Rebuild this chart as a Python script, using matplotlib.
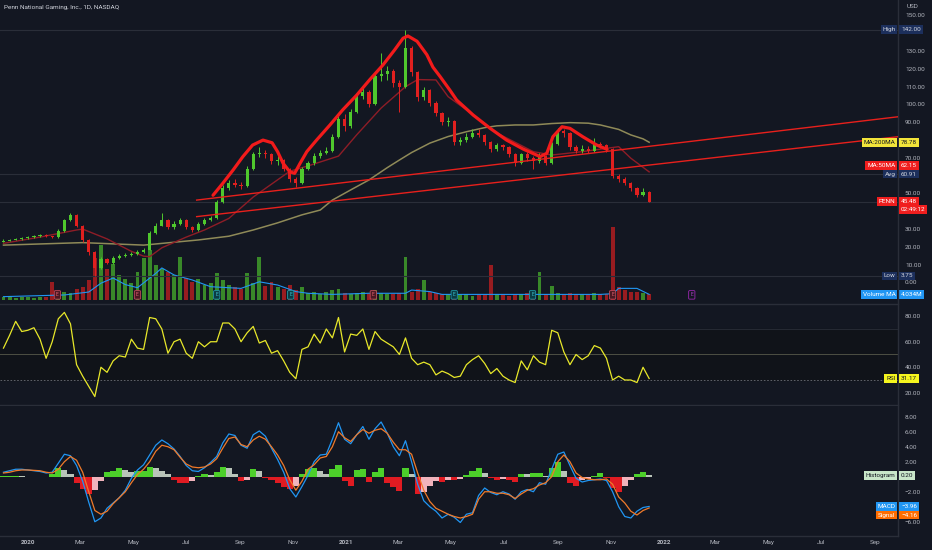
import matplotlib
matplotlib.use("Agg")
import matplotlib.pyplot as plt
import matplotlib.dates as mdates
import numpy as np
import pandas as pd

plt.rcParams["font.family"] = ["Roboto", "DejaVu Sans"]

# weekly bars, first bar in the week of 2019-12-04
bar_start = "2019-12-04"
first_open = 23.0
closes = [
    23.5, 24, 24.5, 25, 25.5, 26, 26.5, 26, 25.5, 29,
    35, 38, 32, 24, 17, 8, 13, 11, 14, 15,
    15.5, 16, 17, 18.5, 28, 32, 35, 31, 33, 35,
    31, 29.5, 33, 35, 36, 45, 53, 56, 55, 54,
    64, 72, 73, 72, 68, 69, 64, 58, 56, 64,
    67, 71, 73, 74, 82, 92, 88, 96, 105, 107,
    100, 116, 117, 119, 112, 110, 132, 118, 104, 108,
    101, 95, 90, 91, 79, 80, 82, 84, 83, 79,
    75, 77, 76, 72, 67, 72, 70, 68, 71, 67,
    78, 85, 84, 76, 74, 75, 74, 78, 77, 75,
    60, 58, 56, 53, 49, 51, 45.48,
]
highs = [
    24.2, 24.6, 25.0, 25.6, 26.3, 26.8, 27.2, 27.0, 26.4, 29.8,
    35.8, 39.3, 38.4, 32.5, 24.6, 17.5, 14.5, 13.8, 14.8, 16.2,
    16.4, 17.0, 18.0, 19.6, 29.0, 33.5, 39.0, 35.5, 34.5, 36.2,
    35.4, 31.8, 33.8, 36.0, 37.5, 46.5, 54.5, 57.5, 58.0, 56.5,
    65.5, 73.5, 76.0, 74.5, 73.0, 71.0, 69.5, 64.5, 59.0, 65.0,
    68.5, 72.5, 74.5, 76.0, 83.5, 93.5, 94.5, 97.5, 106.5, 109.5,
    108.0, 117.5, 129.0, 121.5, 120.0, 114.0, 142.0, 133.0, 119.0, 110.0,
    108.5, 102.0, 96.0, 93.0, 91.5, 82.0, 84.0, 86.0, 86.0, 83.5,
    79.5, 78.5, 78.0, 76.5, 72.5, 73.0, 73.5, 71.0, 72.5, 71.5,
    79.0, 87.0, 86.5, 84.5, 77.0, 77.0, 76.5, 81.0, 79.0, 78.0,
    75.5, 61.0, 59.0, 56.5, 53.5, 53.0, 51.5,
]
lows = [
    22.6, 23.2, 23.6, 24.1, 24.6, 25.2, 25.6, 25.3, 24.8, 25.2,
    28.6, 34.6, 31.2, 22.8, 15.2, 3.75, 7.5, 10.2, 10.6, 13.4,
    14.2, 15.0, 15.6, 16.5, 18.0, 27.0, 31.5, 30.0, 30.2, 32.4,
    30.2, 28.4, 29.0, 32.5, 34.6, 35.5, 44.5, 52.0, 53.5, 52.5,
    53.5, 63.0, 70.5, 70.0, 66.5, 66.0, 62.5, 56.5, 53.5, 55.5,
    63.0, 66.0, 70.0, 72.0, 73.5, 81.0, 85.0, 87.0, 95.0, 103.0,
    98.5, 99.5, 113.0, 114.0, 110.0, 96.0, 109.0, 116.0, 102.0, 102.5,
    99.0, 93.5, 88.5, 88.0, 77.0, 77.5, 79.0, 81.0, 81.5, 77.5,
    73.5, 74.0, 74.5, 70.5, 65.5, 66.5, 68.5, 64.0, 67.0, 66.0,
    66.5, 77.0, 82.0, 74.5, 72.5, 73.0, 72.5, 73.5, 75.5, 73.5,
    58.5, 56.5, 54.5, 51.5, 48.0, 48.5, 45.0,
]
volumes = [  # millions
    2, 2, 1.5, 2, 2, 1.5, 2, 2.5, 13, 5,
    6, 5, 8, 9, 14, 30, 39, 22, 26, 18,
    15, 12, 20, 30, 36, 25, 22, 20, 18, 31,
    16, 13, 15, 11, 12, 19, 14, 11, 9, 8,
    19, 12, 31, 10, 13, 9, 8, 11, 7, 9,
    5, 6, 4, 6, 7, 8, 5, 4, 5, 6,
    4, 7, 5, 4, 4, 5, 31, 6, 8, 14,
    6, 5, 4, 4, 5, 4, 4, 3, 4, 4,
    25, 4, 4, 3, 4, 4, 5, 5, 20, 4,
    10, 5, 4, 5, 4, 4, 4, 5, 4, 4,
    52, 9, 7, 6, 6, 5, 4,
]
rsi = [
    55, 65, 76, 68, 69, 71, 62, 47, 60, 78,
    83, 74, 42, 33, 25, 17, 40, 36, 45, 49,
    48, 62, 55, 54, 79, 78, 70, 51, 60, 62,
    51, 47, 60, 56, 60, 60, 74.7, 74.7, 70, 60,
    67, 72, 59, 61, 51, 53, 45, 36, 31, 54,
    56, 66, 59, 70, 63, 79, 52, 66, 65, 70,
    54, 68, 62, 59, 56, 50, 63, 47, 42, 44,
    42, 34, 37, 35, 32, 33, 42, 46, 49, 43,
    35, 39, 33, 30, 28, 45, 38, 49, 44, 42,
    69, 67, 52, 42, 50, 46, 49, 57, 55, 47,
    30, 33, 30, 30, 28, 40, 31.17,
]
macd = [
    0.6, 0.8, 1.0, 1.0, 0.9, 0.8, 0.7, 0.5, 0.6, 1.8,
    3.0, 2.8, 1.5, -0.6, -3.4, -6.0, -5.5, -4.2, -3.5, -2.8,
    -1.8, -0.2, 0.9, 1.6, 2.9, 4.2, 4.9, 4.4, 3.7, 2.7,
    1.5, 0.8, 0.7, 1.2, 1.9, 2.7, 4.5, 5.7, 5.5, 4.2,
    3.8, 5.6, 6.1, 5.4, 3.8, 2.3, 0.6, -1.6, -2.7, -1.3,
    0.2, 2.0, 2.9, 3.0, 5.0, 7.2, 5.0, 4.4, 5.6, 6.7,
    5.0, 6.4, 7.3, 5.8, 4.0, 2.8, 4.8, 2.0, -1.0, -3.2,
    -4.0, -4.6, -5.5, -5.0, -5.4, -6.1, -5.0, -4.8, -2.5, -1.5,
    -2.1, -2.4, -2.0, -2.3, -3.0, -2.0, -1.7, -2.0, -0.8, -1.0,
    1.0, 3.0, 3.3, 1.5, -0.2, -0.7, -0.5, -0.4, -0.3, -0.5,
    -2.0, -4.0, -5.3, -5.5, -4.6, -4.1, -3.96,
]
signal = [
    0.5, 0.6, 0.8, 0.9, 0.9, 0.85, 0.8, 0.6, 0.5, 1.0,
    2.0, 2.7, 2.2, 0.6, -2.0, -4.5, -5.0, -4.6, -3.6, -2.8,
    -2.0, -0.8, 0.3, 1.0, 2.0, 3.4, 4.2, 4.0, 3.6, 2.6,
    1.7, 1.3, 1.2, 1.3, 1.7, 2.4, 3.8, 5.1, 5.3, 4.3,
    4.0, 4.9, 5.4, 5.0, 4.0, 2.9, 1.5, -0.4, -1.8, -0.6,
    1.0, 1.6, 2.5, 2.7, 4.0, 6.0, 5.2, 4.7, 5.6, 6.3,
    5.8, 6.2, 6.4, 5.8, 4.6, 3.6, 3.6, 3.0, 0.5, -1.8,
    -3.3, -4.2, -4.6, -5.0, -5.3, -5.5, -5.3, -5.0, -3.0, -2.0,
    -2.0, -2.2, -2.2, -2.4, -2.9, -2.3, -1.8, -1.6, -1.1, -0.8,
    0.0, 2.0, 2.9, 2.0, 0.5, -0.1, -0.3, -0.4, -0.4, -0.3,
    -1.0, -2.7, -3.5, -4.6, -5.1, -4.5, -4.16,
]
hist = [
    0.05, 0.1, 0.1, 0.05, -0.05, -0.05, -0.1, -0.1, 0.4, 1.2,
    0.9, 0.3, -0.8, -1.6, -2.3, -1.8, -0.6, 0.6, 0.8, 1.2,
    0.9, 0.6, 0.7, 0.8, 1.3, 1.2, 0.7, 0.3, -0.5, -0.8,
    -0.8, -0.6, 0.1, 0.3, 0.2, 0.6, 1.3, 1.1, 0.3, -0.6,
    -0.4, 1.0, 0.8, -0.2, -0.5, -0.9, -1.4, -1.6, -1.2, 0.4,
    1.0, 1.2, 0.8, 0.4, 1.0, 1.5, -0.6, -1.2, 0.9, 1.0,
    -0.7, 0.6, 1.2, -0.8, -1.4, -1.9, 1.2, 0.4, -2.3, -2.1,
    -1.2, -0.6, -0.7, -0.4, -0.5, -0.3, 0.2, 0.8, 1.2, 0.5,
    -0.2, -0.4, -0.3, -0.5, -0.7, 0.4, 0.3, 0.5, 0.5, 0.1,
    1.2, 2.0, 0.8, -0.8, -1.3, -0.5, -0.3, 0.1, 0.5, -0.2,
    -1.5, -2.0, -1.2, -0.5, 0.3, 0.6, 0.2,
]

# moving averages, sampled at bar numbers
ma200_weeks = [0, 13, 23, 32, 37, 41, 45, 49, 52, 54, 57, 60, 63, 65, 67,
               70, 73, 76, 79, 81, 84, 87, 90, 93, 96, 98, 101, 103, 105, 106]
ma200_vals = [21, 22.4, 21, 23.9, 26, 29.5, 33.5, 38, 40.7, 46.3, 52, 57.6, 64.5, 68.8, 73,
              78.3, 82, 84.7, 87, 88, 88.5, 88.5, 89.3, 89.8, 89.5, 88.5, 86, 82.9, 80.7, 78.78]
ma50_weeks = [0, 6, 12, 13, 17, 21, 23, 24, 26, 30, 33, 37, 41, 47, 50, 55, 58,
              62, 66, 68, 71, 73, 76, 81, 87, 90, 95, 101, 103, 106]
ma50_vals = [22, 25.5, 29.5, 30, 24.5, 17.5, 14.8, 14.5, 19.5, 25.5, 29.5, 36, 48, 62.5, 65.5, 71, 83,
             98, 110, 114, 113.8, 104.4, 97, 84, 73.5, 71.6, 73.5, 76.3, 69.8, 62.15]
vma_weeks = [0, 10, 14, 16, 18, 20, 22, 25, 26, 28, 31, 34, 39, 42, 45, 48, 50,
             54, 60, 66, 67, 70, 72, 80, 90, 98, 100, 101, 104, 106]
vma_vals = [2.4, 3.6, 5.7, 12, 15.7, 11, 8.8, 19, 22.9, 17.9, 14.3, 9.5, 8.3, 13, 10.7, 6, 4.8,
            4, 4.8, 4.8, 7.1, 6, 4, 4, 4, 4, 4.5, 8.3, 8.3, 4.034]

# hand drawn pattern curve (bar number, price)
curve_weeks = [34.4, 36.0, 37.7, 39.3, 40.9, 42.6, 44.1, 45.0, 45.9, 47.0, 47.8, 48.7, 49.8,
               51.4, 53.6, 55.7, 58.0, 60.1, 62.3, 64.2, 65.6, 66.4, 67.9, 69.5, 70.5,
               71.7, 73.3, 74.4, 77.1, 79.9, 82.6, 85.3, 88.1, 89.2, 90.2, 91.7, 93.0,
               95.1, 97.4, 99.1]
curve_prices = [49, 55.7, 63.2, 70.7, 77.2, 80, 78.5, 73.5, 67, 62.2, 61.3, 67, 73.5,
                80, 88.5, 97, 105.3, 113.8, 122.2, 130.6, 137.2, 138.5, 135.5, 128, 121,
                115.6, 108, 102.5, 94.1, 86.6, 80, 75, 70.7, 72.6, 81.9, 87.5, 86.6,
                81.9, 77.2, 74.8]

trend_dates = ["2020-07-13", "2022-09-27"]
trend_upper = [46.3, 93.1]
trend_lower = [37.0, 81.9]

earnings_dates = ["2020-02-04", "2020-05-06", "2020-08-05", "2020-10-29", "2021-02-01",
                  "2021-05-05", "2021-08-03", "2021-11-03", "2022-02-02"]
earnings_kind = ["miss", "miss", "beat", "beat", "miss", "beat", "beat", "miss", "next"]

month_ticks = pd.date_range("2020-01-01", "2022-09-01", freq="2MS")

BG = "#131722"
LINE = "#2a2e39"
TXT = "#b2b5be"
UP = "#4fc82d"
DOWN = "#e0201f"
FS = 4.6

t0 = mdates.date2num(pd.Timestamp(bar_start))


def wk(k):
    return t0 + 7 * np.asarray(k, dtype=float)


x = wk(np.arange(len(closes)))
c = np.array(closes)
o = np.array([first_open] + closes[:-1])
cols = [UP if cc >= oo else DOWN for oo, cc in zip(o, c)]
xlim = (mdates.date2num(pd.Timestamp("2019-11-30")), mdates.date2num(pd.Timestamp("2022-09-27")))

fig = plt.figure(figsize=(9.32, 5.5), dpi=100, facecolor=BG)


def pane(top, bottom):
    return [0, 1 - bottom / 550, 898 / 932, (bottom - top) / 550]


ax_p = fig.add_axes(pane(0, 304))
ax_r = fig.add_axes(pane(305, 405))
ax_m = fig.add_axes(pane(406, 536))

# volume sits behind the price pane on its own scale
ax_v = ax_p.twinx()
ax_p.set_zorder(ax_v.get_zorder() + 1)
ax_p.patch.set_visible(False)
ax_v.set_facecolor(BG)
for s in ax_v.spines.values():
    s.set_visible(False)
ax_v.set_yticks([])


def style(ax):
    ax.set_facecolor(BG)
    for s in ["top", "left"]:
        ax.spines[s].set_visible(False)
    for s in ["bottom", "right"]:
        ax.spines[s].set_color(LINE)
        ax.spines[s].set_linewidth(1)
    ax.yaxis.tick_right()
    ax.tick_params(axis="y", length=0, pad=5, labelsize=FS, labelcolor=TXT,
                   left=False, labelleft=False, right=True, labelright=True)
    ax.tick_params(axis="x", length=0, labelbottom=False)
    ax.set_xlim(xlim)


def tag(ax, y, name, value, fc, tc, dy=0):
    tr = ax.get_yaxis_transform()
    kw = dict(xycoords=tr, textcoords="offset points", va="center", fontsize=FS,
              color=tc, annotation_clip=False, zorder=20)
    if name:
        ax.annotate(name, xy=(1, y), xytext=(-1.8, dy), ha="right",
                    bbox=dict(boxstyle="square,pad=0.28", fc=fc, ec="none"), **kw)
    ax.annotate(value, xy=(1, y), xytext=(2.2, dy), ha="left",
                bbox=dict(boxstyle="square,pad=0.28", fc=fc, ec="none"), **kw)


for a in (ax_p, ax_r, ax_m):
    style(a)
ax_p.patch.set_visible(False)

# ---- price pane ----
ax_v.bar(x, volumes, width=4.5, color=cols, alpha=0.65, linewidth=0)
ax_v.plot(wk(vma_weeks), vma_vals, color="#2196f3", lw=0.8)
ax_v.set_ylim(-4 / 1.4, 300 / 1.4)
ax_v.set_xlim(xlim)
tag(ax_v, 4.034, "Volume MA", "4.034M", "#2196f3", "#ffffff")

for lvl in [142.0, 60.91, 45.48, 3.75]:
    ax_p.axhline(lvl, color=LINE, lw=0.8, zorder=1)

ax_p.plot(wk(ma200_weeks), ma200_vals, color="#8f8a58", lw=1.1, zorder=2)
ax_p.plot(wk(ma50_weeks), ma50_vals, color="#8e1d27", lw=1.0, zorder=2)

ax_p.vlines(x, lows, highs, colors=cols, lw=0.7, zorder=3)
ax_p.bar(x, np.maximum(np.abs(c - o), 0.35), bottom=np.minimum(o, c), width=3.6,
         color=cols, linewidth=0, zorder=4)

td = mdates.date2num(pd.to_datetime(trend_dates))
ax_p.plot(td, trend_upper, color="#e8201c", lw=1.0, zorder=5)
ax_p.plot(td, trend_lower, color="#e8201c", lw=1.0, zorder=5)
ax_p.plot(wk(curve_weeks), curve_prices, color="#f21b1b", lw=2.3,
          solid_joinstyle="round", solid_capstyle="round", zorder=6)

etr = ax_p.get_xaxis_transform()
estyle = {"miss": ("#4a1822", "#c2485a", "#e06070"),
          "beat": ("#0b3b44", "#1f9aa6", "#3cc0c8"),
          "next": ("none", "#9c27b0", "#b040c8")}
for d, k in zip(earnings_dates, earnings_kind):
    fc, ec, tc = estyle[k]
    ax_p.text(mdates.date2num(pd.Timestamp(d)), 0.03, "E", transform=etr, ha="center",
              va="center", fontsize=3.6, color=tc, zorder=7,
              bbox=dict(boxstyle="round,pad=0.35,rounding_size=0.2", fc=fc, ec=ec, lw=0.6))

ax_p.set_ylim(-12.08, 158.7)
pt = [0, 10, 20, 30, 50, 70, 90, 100, 110, 120, 130, 150]
ax_p.set_yticks(pt)
ax_p.set_yticklabels([f"{v:.2f}" for v in pt])

tag(ax_p, 142.0, "High", "142.00", "#1c2f5c", "#d1d4dc")
tag(ax_p, 78.78, "MA:200MA", "78.78", "#f2e43a", "#131722")
tag(ax_p, 62.15, "MA:50MA", "62.15", "#f01e1e", "#ffffff", dy=4.5)
tag(ax_p, 60.91, "Avg", "60.91", "#1c2f5c", "#d1d4dc")
tag(ax_p, 45.48, "PENN", "45.48", "#f01e1e", "#ffffff")
tag(ax_p, 45.48, None, "02:49:12", "#f01e1e", "#ffffff", dy=-5.6)
tag(ax_p, 3.75, "Low", "3.75", "#1c2f5c", "#d1d4dc")

fig.text(4 / 932, 1 - 8 / 550, "Penn National Gaming, Inc., 1D, NASDAQ", fontsize=FS,
         color="#d1d4dc", va="center")
fig.text(913 / 932, 1 - 7 / 550, "USD", fontsize=FS, color=TXT, va="center", ha="center")

# ---- RSI pane ----
ax_r.axhspan(30, 70, color="#101319", zorder=0)
ax_r.axhline(70, color=LINE, lw=0.6)
ax_r.axhline(50, color="#4d4f44", lw=0.7)
ax_r.axhline(30, color="#6b6e78", lw=0.6, ls=(0, (2, 2)))
ax_r.plot(x, rsi, color="#e8e82a", lw=0.9, zorder=3)
ax_r.set_ylim(10.4, 88.8)
ax_r.set_yticks([20, 40, 60, 80])
ax_r.set_yticklabels(["20.00", "40.00", "60.00", "80.00"])
tag(ax_r, 31.17, "RSI", "31.17", "#f5f51e", "#131722")

# ---- MACD pane ----
hcols = []
for i, v in enumerate(hist):
    prev = hist[i - 1] if i else v
    if v >= 0:
        hcols.append("#4ccf2a" if v >= prev else "#b9c4b9")
    else:
        hcols.append("#e01b22" if v <= prev else "#f0b3bc")
ax_m.bar(x, hist, width=7, color=hcols, linewidth=0, zorder=2)
ax_m.plot(x, macd, color="#2196f3", lw=0.9, zorder=3)
ax_m.plot(x, signal, color="#f07a2a", lw=0.9, zorder=3)
ax_m.set_ylim(-7.9, 9.43)
mt = [8, 6, 4, 2, -2, -6]
ax_m.set_yticks(mt)
ax_m.set_yticklabels([f"{v:.2f}".replace("-", "\u2212") for v in mt])
tag(ax_m, 0.20, "Histogram", "0.20", "#c8e6c9", "#131722")
tag(ax_m, -3.96, "MACD", "\u22123.96", "#2196f3", "#ffffff")
tag(ax_m, -4.16, "Signal", "\u22124.16", "#ff6d00", "#ffffff", dy=-5.1)

ax_m.set_xticks(mdates.date2num(month_ticks))
ax_m.set_xticklabels([d.strftime("%Y") if d.month == 1 else d.strftime("%b") for d in month_ticks])
ax_m.tick_params(axis="x", labelbottom=True, labelsize=FS, labelcolor=TXT, pad=3)
for lab, d in zip(ax_m.get_xticklabels(), month_ticks):
    if d.month == 1:
        lab.set_fontweight("bold")

fig.savefig("out.png", dpi=100, facecolor=BG)
